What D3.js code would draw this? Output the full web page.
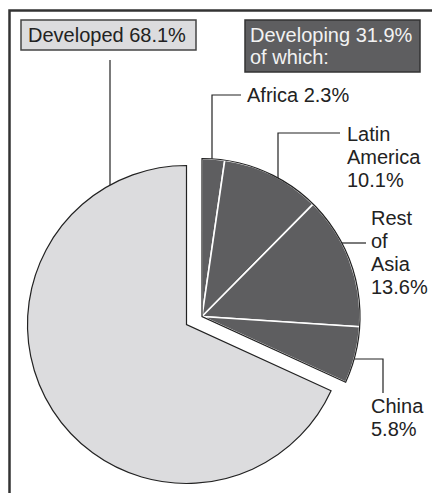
<!DOCTYPE html>
<html>
<head>
<meta charset="utf-8">
<script src="https://cdn.jsdelivr.net/npm/d3@7"></script>
<style>
    html, body { margin: 0; padding: 0; background: #fff; }
    svg { display: block; }
    text { font-family: "Liberation Sans", Arial, Helvetica, sans-serif; font-size: 20px; }
</style>
</head>
<body>
<svg width="432" height="493"></svg>
<script>

const svg_ = d3.select('svg');

const W = 432;
const H = 493;

// data (share of total, %)
const REGIONS = ["Africa", "Latin America", "Rest of Asia", "China", "Developed"];
const SHARES = [2.3, 10.1, 13.6, 5.8, 68.1];
const GROUPS = ["Developing", "Developing", "Developing", "Developing", "Developed"];
const DEVELOPING_TOTAL = 31.9;

// label lines per slice (text only)
const LABEL_LINES = [
    ["Africa 2.3%"],
    ["Latin", "America", "10.1%"],
    ["Rest", "of", "Asia", "13.6%"],
    ["China", "5.8%"],
    []
];

const COLORS = {
    Developed: "#dcdcde",
    Developing: "#5e5e60",
    ink: "#222",
    frame: "#333"
};

const DIMS = {
    CX: 186.5,
    CY: 324.5,
    R: 159,
    R_DEV: 158,
    EXPLODE: [15.5, -8],
    LINE_H: 23
};

// label placement: text anchor + leader (x-attach = vertical leader, y-attach = horizontal leader)
const LABEL_POS = [
    { x: 247, y: 102, leader: { kind: "v", at: 212, top: 95, to: 241 } },
    { x: 347, y: 141, leader: { kind: "v", at: 278, top: 133, to: 340 } },
    { x: 371, y: 225, leader: { kind: "h", at: 243, to: 366 } },
    { x: 371, y: 413, leader: { kind: "h", at: 359, to: 383, down: 393 } },
    null
];

// frame (runs off the right and bottom edges)
svg_.append("rect")
    .attr("x", 9.5).attr("y", 10.5)
    .attr("width", W + 20).attr("height", H + 20)
    .attr("fill", "none")
    .attr("stroke", COLORS.frame)
    .attr("stroke-width", 2.5);

const pie = d3.pie()
    .sort(null)
    .value(d => d.value);

const data = pie(REGIONS.map((r, i) => ({ name: r, value: SHARES[i], group: GROUPS[i] })));

const arcDev = d3.arc().innerRadius(0).outerRadius(DIMS.R);
const arcDvg = d3.arc().innerRadius(0).outerRadius(DIMS.R_DEV);

const devCenter = [DIMS.CX, DIMS.CY];
const dvgCenter = [DIMS.CX + DIMS.EXPLODE[0], DIMS.CY + DIMS.EXPLODE[1]];

// developed slice
const developed = data.filter(d => d.data.group === "Developed");
svg_.append("g")
    .attr("transform", `translate(${devCenter})`)
    .selectAll("path")
    .data(developed)
    .join("path")
    .attr("d", arcDev)
    .attr("fill", COLORS.Developed)
    .attr("stroke", COLORS.ink)
    .attr("stroke-width", 1.2);

// developing slices, exploded
const developing = data.filter(d => d.data.group === "Developing");
const gDvg = svg_.append("g")
    .attr("transform", `translate(${dvgCenter})`);

gDvg.selectAll("path.slice")
    .data(developing)
    .join("path")
    .classed("slice", true)
    .attr("d", arcDvg)
    .attr("fill", COLORS.Developing)
    .attr("stroke", "#fff")
    .attr("stroke-width", 1.6)
    .attr("stroke-linejoin", "round");

// outline around whole developing block
gDvg.append("path")
    .attr("d", arcDvg({
        startAngle: developing[0].startAngle,
        endAngle: developing[developing.length - 1].endAngle
    }))
    .attr("fill", "none")
    .attr("stroke", COLORS.ink)
    .attr("stroke-width", 1.2);

// point on circle for a vertical (x given) or horizontal (y given) leader
function circleY(c, r, x) { return c[1] - Math.sqrt(r * r - (x - c[0]) ** 2); }
function circleX(c, r, y) { return c[0] + Math.sqrt(r * r - (y - c[1]) ** 2); }

const leaders = svg_.append("g")
    .attr("fill", "none")
    .attr("stroke", COLORS.ink)
    .attr("stroke-width", 1.2);

LABEL_POS.forEach((p, i) => {
    if (!p) return;
    const L = p.leader;
    let pts;
    if (L.kind === "v") {
        pts = [[L.at, circleY(dvgCenter, DIMS.R_DEV, L.at)], [L.at, L.top], [L.to, L.top]];
    } else {
        pts = [[circleX(dvgCenter, DIMS.R_DEV, L.at), L.at], [L.to, L.at]];
        if (L.down) pts.push([L.to, L.down]);
    }
    leaders.append("path").attr("d", d3.line()(pts));

    svg_.append("text")
        .attr("x", p.x)
        .attr("y", p.y)
        .attr("fill", COLORS.ink)
        .selectAll("tspan")
        .data(LABEL_LINES[i])
        .join("tspan")
        .attr("x", p.x)
        .attr("dy", (d, j) => j === 0 ? 0 : DIMS.LINE_H)
        .text(d => d);
});

// developed leader
const devX = 110;
leaders.append("path")
    .attr("d", d3.line()([[devX, 60], [devX, circleY(devCenter, DIMS.R, devX)]]));

// header boxes
const devBox = svg_.append("g");
devBox.append("rect")
    .attr("x", 21).attr("y", 20).attr("width", 175).attr("height", 30)
    .attr("fill", COLORS.Developed)
    .attr("stroke", "#444").attr("stroke-width", 1.5);
devBox.append("text")
    .attr("x", 28).attr("y", 42)
    .attr("fill", COLORS.ink)
    .text(`Developed ${SHARES[4]}%`);

const dvgBox = svg_.append("g");
dvgBox.append("rect")
    .attr("x", 245).attr("y", 20).attr("width", 175).attr("height", 52)
    .attr("fill", COLORS.Developing)
    .attr("stroke", "#333").attr("stroke-width", 1.5);
dvgBox.append("text")
    .attr("fill", "#f2f2f2")
    .selectAll("tspan")
    .data([`Developing ${DEVELOPING_TOTAL}%`, "of which:"])
    .join("tspan")
    .attr("x", 250)
    .attr("y", (d, j) => 42 + j * 22)
    .text(d => d);

</script>
</body>
</html>
